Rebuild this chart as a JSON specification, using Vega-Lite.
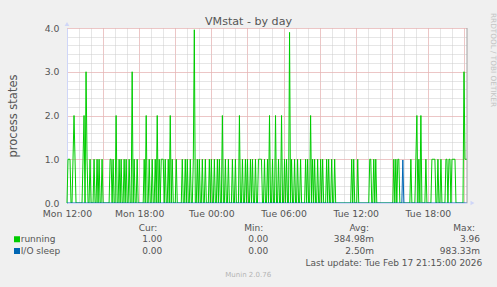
{
"$schema": "https://vega.github.io/schema/vega-lite/v6.json",
"background": "#f0f0f0",
"autosize": {"type": "pad"},
"padding": {"left": 7, "top": 13, "right": 6, "bottom": 10},
"bounds": "flush",
"spacing": 24.5,
"config": {
 "font": "DejaVu Sans",
 "view": {"stroke": null},
 "axis": {"labelFlush": false, "labelOverlap": false, "labelBound": false, "titleFontWeight": "normal", "labelColor": "#555555", "titleColor": "#555555", "gridOpacity": 1},
 "text": {"font": "DejaVu Sans", "fontSize": 9, "color": "#555555"}
},
"datasets": {"d": [
{"t":"2026-02-16T12:00Z","r":0,"s":0},{"t":"2026-02-16T12:05Z","r":1,"s":0},{"t":"2026-02-16T12:10Z","r":1,"s":0},{"t":"2026-02-16T12:15Z","r":1,"s":0},{"t":"2026-02-16T12:20Z","r":0,"s":0},{"t":"2026-02-16T12:25Z","r":0,"s":0},{"t":"2026-02-16T12:30Z","r":1,"s":0},{"t":"2026-02-16T12:35Z","r":2,"s":0},{"t":"2026-02-16T12:40Z","r":1,"s":0},{"t":"2026-02-16T12:45Z","r":0,"s":0},{"t":"2026-02-16T12:50Z","r":0,"s":0},{"t":"2026-02-16T12:55Z","r":0,"s":0},
{"t":"2026-02-16T13:00Z","r":0,"s":0},{"t":"2026-02-16T13:05Z","r":0,"s":0},{"t":"2026-02-16T13:10Z","r":0,"s":0},{"t":"2026-02-16T13:15Z","r":0,"s":0},{"t":"2026-02-16T13:20Z","r":1,"s":0},{"t":"2026-02-16T13:25Z","r":2,"s":0},{"t":"2026-02-16T13:30Z","r":0,"s":0},{"t":"2026-02-16T13:35Z","r":3,"s":0},{"t":"2026-02-16T13:40Z","r":1,"s":0},{"t":"2026-02-16T13:45Z","r":0,"s":0},{"t":"2026-02-16T13:50Z","r":0,"s":0},{"t":"2026-02-16T13:55Z","r":1,"s":0},
{"t":"2026-02-16T14:00Z","r":0,"s":0},{"t":"2026-02-16T14:05Z","r":0,"s":0},{"t":"2026-02-16T14:10Z","r":0,"s":0},{"t":"2026-02-16T14:15Z","r":1,"s":0},{"t":"2026-02-16T14:20Z","r":0,"s":0},{"t":"2026-02-16T14:25Z","r":0,"s":0},{"t":"2026-02-16T14:30Z","r":1,"s":0},{"t":"2026-02-16T14:35Z","r":0,"s":0},{"t":"2026-02-16T14:40Z","r":1,"s":0},{"t":"2026-02-16T14:45Z","r":0,"s":0},{"t":"2026-02-16T14:50Z","r":0,"s":0},{"t":"2026-02-16T14:55Z","r":1,"s":0},
{"t":"2026-02-16T15:00Z","r":0,"s":0},{"t":"2026-02-16T15:05Z","r":0,"s":0},{"t":"2026-02-16T15:10Z","r":0,"s":0},{"t":"2026-02-16T15:15Z","r":0,"s":0},{"t":"2026-02-16T15:20Z","r":0,"s":0},{"t":"2026-02-16T15:25Z","r":0,"s":0},{"t":"2026-02-16T15:30Z","r":0,"s":0},{"t":"2026-02-16T15:35Z","r":1,"s":0},{"t":"2026-02-16T15:40Z","r":1,"s":0},{"t":"2026-02-16T15:45Z","r":0,"s":0},{"t":"2026-02-16T15:50Z","r":1,"s":0},{"t":"2026-02-16T15:55Z","r":0,"s":0},
{"t":"2026-02-16T16:00Z","r":0,"s":0},{"t":"2026-02-16T16:05Z","r":2,"s":0},{"t":"2026-02-16T16:10Z","r":0,"s":0},{"t":"2026-02-16T16:15Z","r":0,"s":0},{"t":"2026-02-16T16:20Z","r":1,"s":0},{"t":"2026-02-16T16:25Z","r":0,"s":0},{"t":"2026-02-16T16:30Z","r":1,"s":0},{"t":"2026-02-16T16:35Z","r":0,"s":0},{"t":"2026-02-16T16:40Z","r":0,"s":0},{"t":"2026-02-16T16:45Z","r":1,"s":0},{"t":"2026-02-16T16:50Z","r":0,"s":0},{"t":"2026-02-16T16:55Z","r":1,"s":0},
{"t":"2026-02-16T17:00Z","r":0,"s":0},{"t":"2026-02-16T17:05Z","r":0,"s":0},{"t":"2026-02-16T17:10Z","r":1,"s":0},{"t":"2026-02-16T17:15Z","r":0,"s":0},{"t":"2026-02-16T17:20Z","r":0,"s":0},{"t":"2026-02-16T17:25Z","r":3,"s":0},{"t":"2026-02-16T17:30Z","r":0,"s":0},{"t":"2026-02-16T17:35Z","r":1,"s":0},{"t":"2026-02-16T17:40Z","r":0,"s":0},{"t":"2026-02-16T17:45Z","r":0,"s":0},{"t":"2026-02-16T17:50Z","r":1,"s":0},{"t":"2026-02-16T17:55Z","r":0,"s":0},
{"t":"2026-02-16T18:00Z","r":0,"s":0},{"t":"2026-02-16T18:05Z","r":0,"s":0},{"t":"2026-02-16T18:10Z","r":0,"s":0},{"t":"2026-02-16T18:15Z","r":0,"s":0},{"t":"2026-02-16T18:20Z","r":0,"s":0},{"t":"2026-02-16T18:25Z","r":1,"s":0},{"t":"2026-02-16T18:30Z","r":0,"s":0},{"t":"2026-02-16T18:35Z","r":2,"s":0},{"t":"2026-02-16T18:40Z","r":0,"s":0},{"t":"2026-02-16T18:45Z","r":0,"s":0},{"t":"2026-02-16T18:50Z","r":1,"s":0},{"t":"2026-02-16T18:55Z","r":0,"s":0},
{"t":"2026-02-16T19:00Z","r":0,"s":0},{"t":"2026-02-16T19:05Z","r":1,"s":0},{"t":"2026-02-16T19:10Z","r":0,"s":0},{"t":"2026-02-16T19:15Z","r":0,"s":0},{"t":"2026-02-16T19:20Z","r":1,"s":0},{"t":"2026-02-16T19:25Z","r":0,"s":0},{"t":"2026-02-16T19:30Z","r":2,"s":0},{"t":"2026-02-16T19:35Z","r":0,"s":0},{"t":"2026-02-16T19:40Z","r":1,"s":0},{"t":"2026-02-16T19:45Z","r":0,"s":0},{"t":"2026-02-16T19:50Z","r":1,"s":0},{"t":"2026-02-16T19:55Z","r":1,"s":0},
{"t":"2026-02-16T20:00Z","r":1,"s":0},{"t":"2026-02-16T20:05Z","r":0,"s":0},{"t":"2026-02-16T20:10Z","r":1,"s":0},{"t":"2026-02-16T20:15Z","r":0,"s":0},{"t":"2026-02-16T20:20Z","r":0,"s":0},{"t":"2026-02-16T20:25Z","r":1,"s":0},{"t":"2026-02-16T20:30Z","r":0,"s":0},{"t":"2026-02-16T20:35Z","r":2,"s":0},{"t":"2026-02-16T20:40Z","r":0,"s":0},{"t":"2026-02-16T20:45Z","r":1,"s":0},{"t":"2026-02-16T20:50Z","r":0,"s":0},{"t":"2026-02-16T20:55Z","r":0,"s":0},
{"t":"2026-02-16T21:00Z","r":0,"s":0},{"t":"2026-02-16T21:05Z","r":1,"s":0},{"t":"2026-02-16T21:10Z","r":0,"s":0},{"t":"2026-02-16T21:15Z","r":0,"s":0},{"t":"2026-02-16T21:20Z","r":0,"s":0},{"t":"2026-02-16T21:25Z","r":0,"s":0},{"t":"2026-02-16T21:30Z","r":0,"s":0},{"t":"2026-02-16T21:35Z","r":1,"s":0},{"t":"2026-02-16T21:40Z","r":0,"s":0},{"t":"2026-02-16T21:45Z","r":0,"s":0},{"t":"2026-02-16T21:50Z","r":1,"s":0},{"t":"2026-02-16T21:55Z","r":0,"s":0},
{"t":"2026-02-16T22:00Z","r":1,"s":0},{"t":"2026-02-16T22:05Z","r":0,"s":0},{"t":"2026-02-16T22:10Z","r":0,"s":0},{"t":"2026-02-16T22:15Z","r":1,"s":0},{"t":"2026-02-16T22:20Z","r":0,"s":0},{"t":"2026-02-16T22:25Z","r":0,"s":0},{"t":"2026-02-16T22:30Z","r":1,"s":0},{"t":"2026-02-16T22:35Z","r":3.96,"s":0},{"t":"2026-02-16T22:40Z","r":0,"s":0},{"t":"2026-02-16T22:45Z","r":0,"s":0},{"t":"2026-02-16T22:50Z","r":1,"s":0},{"t":"2026-02-16T22:55Z","r":0,"s":0},
{"t":"2026-02-16T23:00Z","r":1,"s":0},{"t":"2026-02-16T23:05Z","r":0,"s":0},{"t":"2026-02-16T23:10Z","r":0,"s":0},{"t":"2026-02-16T23:15Z","r":1,"s":0},{"t":"2026-02-16T23:20Z","r":0,"s":0},{"t":"2026-02-16T23:25Z","r":0,"s":0},{"t":"2026-02-16T23:30Z","r":1,"s":0},{"t":"2026-02-16T23:35Z","r":0,"s":0},{"t":"2026-02-16T23:40Z","r":0,"s":0},{"t":"2026-02-16T23:45Z","r":0,"s":0},{"t":"2026-02-16T23:50Z","r":1,"s":0},{"t":"2026-02-16T23:55Z","r":0,"s":0},
{"t":"2026-02-17T00:00Z","r":1,"s":0},{"t":"2026-02-17T00:05Z","r":0,"s":0},{"t":"2026-02-17T00:10Z","r":0,"s":0},{"t":"2026-02-17T00:15Z","r":1,"s":0},{"t":"2026-02-17T00:20Z","r":0,"s":0},{"t":"2026-02-17T00:25Z","r":0,"s":0},{"t":"2026-02-17T00:30Z","r":1,"s":0},{"t":"2026-02-17T00:35Z","r":0,"s":0},{"t":"2026-02-17T00:40Z","r":1,"s":0},{"t":"2026-02-17T00:45Z","r":0,"s":0},{"t":"2026-02-17T00:50Z","r":0,"s":0},{"t":"2026-02-17T00:55Z","r":2,"s":0},
{"t":"2026-02-17T01:00Z","r":0,"s":0},{"t":"2026-02-17T01:05Z","r":0,"s":0},{"t":"2026-02-17T01:10Z","r":1,"s":0},{"t":"2026-02-17T01:15Z","r":0,"s":0},{"t":"2026-02-17T01:20Z","r":0,"s":0},{"t":"2026-02-17T01:25Z","r":1,"s":0},{"t":"2026-02-17T01:30Z","r":0,"s":0},{"t":"2026-02-17T01:35Z","r":0,"s":0},{"t":"2026-02-17T01:40Z","r":0,"s":0},{"t":"2026-02-17T01:45Z","r":1,"s":0},{"t":"2026-02-17T01:50Z","r":0,"s":0},{"t":"2026-02-17T01:55Z","r":0,"s":0},
{"t":"2026-02-17T02:00Z","r":1,"s":0},{"t":"2026-02-17T02:05Z","r":0,"s":0},{"t":"2026-02-17T02:10Z","r":0,"s":0},{"t":"2026-02-17T02:15Z","r":0,"s":0},{"t":"2026-02-17T02:20Z","r":2,"s":0},{"t":"2026-02-17T02:25Z","r":0,"s":0},{"t":"2026-02-17T02:30Z","r":0,"s":0},{"t":"2026-02-17T02:35Z","r":1,"s":0},{"t":"2026-02-17T02:40Z","r":0,"s":0},{"t":"2026-02-17T02:45Z","r":0,"s":0},{"t":"2026-02-17T02:50Z","r":1,"s":0},{"t":"2026-02-17T02:55Z","r":0,"s":0},
{"t":"2026-02-17T03:00Z","r":1,"s":0},{"t":"2026-02-17T03:05Z","r":0,"s":0},{"t":"2026-02-17T03:10Z","r":0,"s":0},{"t":"2026-02-17T03:15Z","r":1,"s":0},{"t":"2026-02-17T03:20Z","r":0,"s":0},{"t":"2026-02-17T03:25Z","r":1,"s":0},{"t":"2026-02-17T03:30Z","r":0,"s":0},{"t":"2026-02-17T03:35Z","r":0,"s":0},{"t":"2026-02-17T03:40Z","r":1,"s":0},{"t":"2026-02-17T03:45Z","r":0,"s":0},{"t":"2026-02-17T03:50Z","r":0,"s":0},{"t":"2026-02-17T03:55Z","r":1,"s":0},
{"t":"2026-02-17T04:00Z","r":1,"s":0},{"t":"2026-02-17T04:05Z","r":1,"s":0},{"t":"2026-02-17T04:10Z","r":1,"s":0},{"t":"2026-02-17T04:15Z","r":0,"s":0},{"t":"2026-02-17T04:20Z","r":0,"s":0},{"t":"2026-02-17T04:25Z","r":1,"s":0},{"t":"2026-02-17T04:30Z","r":0,"s":0},{"t":"2026-02-17T04:35Z","r":0,"s":0},{"t":"2026-02-17T04:40Z","r":1,"s":0},{"t":"2026-02-17T04:45Z","r":0,"s":0},{"t":"2026-02-17T04:50Z","r":2,"s":0},{"t":"2026-02-17T04:55Z","r":0,"s":0},
{"t":"2026-02-17T05:00Z","r":0,"s":0},{"t":"2026-02-17T05:05Z","r":1,"s":0},{"t":"2026-02-17T05:10Z","r":0,"s":0},{"t":"2026-02-17T05:15Z","r":0,"s":0},{"t":"2026-02-17T05:20Z","r":2,"s":0},{"t":"2026-02-17T05:25Z","r":0,"s":0},{"t":"2026-02-17T05:30Z","r":0,"s":0},{"t":"2026-02-17T05:35Z","r":1,"s":0},{"t":"2026-02-17T05:40Z","r":0,"s":0},{"t":"2026-02-17T05:45Z","r":0,"s":0},{"t":"2026-02-17T05:50Z","r":2,"s":0},{"t":"2026-02-17T05:55Z","r":0,"s":0},
{"t":"2026-02-17T06:00Z","r":0,"s":0},{"t":"2026-02-17T06:05Z","r":1,"s":0},{"t":"2026-02-17T06:10Z","r":0,"s":0},{"t":"2026-02-17T06:15Z","r":1,"s":0},{"t":"2026-02-17T06:20Z","r":0,"s":0},{"t":"2026-02-17T06:25Z","r":0,"s":0},{"t":"2026-02-17T06:30Z","r":3.9,"s":0},{"t":"2026-02-17T06:35Z","r":0,"s":0},{"t":"2026-02-17T06:40Z","r":1,"s":0},{"t":"2026-02-17T06:45Z","r":0,"s":0},{"t":"2026-02-17T06:50Z","r":0,"s":0},{"t":"2026-02-17T06:55Z","r":1,"s":0},
{"t":"2026-02-17T07:00Z","r":0,"s":0},{"t":"2026-02-17T07:05Z","r":0,"s":0},{"t":"2026-02-17T07:10Z","r":1,"s":0},{"t":"2026-02-17T07:15Z","r":0,"s":0},{"t":"2026-02-17T07:20Z","r":0,"s":0},{"t":"2026-02-17T07:25Z","r":1,"s":0},{"t":"2026-02-17T07:30Z","r":0,"s":0},{"t":"2026-02-17T07:35Z","r":0,"s":0},{"t":"2026-02-17T07:40Z","r":0,"s":0},{"t":"2026-02-17T07:45Z","r":0,"s":0},{"t":"2026-02-17T07:50Z","r":1,"s":0},{"t":"2026-02-17T07:55Z","r":0,"s":0},
{"t":"2026-02-17T08:00Z","r":1,"s":0},{"t":"2026-02-17T08:05Z","r":0,"s":0},{"t":"2026-02-17T08:10Z","r":0,"s":0},{"t":"2026-02-17T08:15Z","r":2,"s":0},{"t":"2026-02-17T08:20Z","r":0,"s":0},{"t":"2026-02-17T08:25Z","r":1,"s":0},{"t":"2026-02-17T08:30Z","r":0,"s":0},{"t":"2026-02-17T08:35Z","r":1,"s":0},{"t":"2026-02-17T08:40Z","r":0,"s":0},{"t":"2026-02-17T08:45Z","r":0,"s":0},{"t":"2026-02-17T08:50Z","r":1,"s":0},{"t":"2026-02-17T08:55Z","r":0,"s":0},
{"t":"2026-02-17T09:00Z","r":0,"s":0},{"t":"2026-02-17T09:05Z","r":1,"s":0},{"t":"2026-02-17T09:10Z","r":0,"s":0},{"t":"2026-02-17T09:15Z","r":1,"s":0},{"t":"2026-02-17T09:20Z","r":0,"s":0},{"t":"2026-02-17T09:25Z","r":0,"s":0},{"t":"2026-02-17T09:30Z","r":0,"s":0},{"t":"2026-02-17T09:35Z","r":1,"s":0},{"t":"2026-02-17T09:40Z","r":0,"s":0},{"t":"2026-02-17T09:45Z","r":1,"s":0},{"t":"2026-02-17T09:50Z","r":0,"s":0},{"t":"2026-02-17T09:55Z","r":0,"s":0},
{"t":"2026-02-17T10:00Z","r":1,"s":0},{"t":"2026-02-17T10:05Z","r":0,"s":0},{"t":"2026-02-17T10:10Z","r":0,"s":0},{"t":"2026-02-17T10:15Z","r":1,"s":0},{"t":"2026-02-17T10:20Z","r":0,"s":0},{"t":"2026-02-17T10:25Z","r":0,"s":0},{"t":"2026-02-17T10:30Z","r":0,"s":0},{"t":"2026-02-17T10:35Z","r":0,"s":0},{"t":"2026-02-17T10:40Z","r":0,"s":0},{"t":"2026-02-17T10:45Z","r":0,"s":0},{"t":"2026-02-17T10:50Z","r":0,"s":0},{"t":"2026-02-17T10:55Z","r":0,"s":0},
{"t":"2026-02-17T11:00Z","r":0,"s":0},{"t":"2026-02-17T11:05Z","r":0,"s":0},{"t":"2026-02-17T11:10Z","r":0,"s":0},{"t":"2026-02-17T11:15Z","r":0,"s":0},{"t":"2026-02-17T11:20Z","r":0,"s":0},{"t":"2026-02-17T11:25Z","r":0,"s":0},{"t":"2026-02-17T11:30Z","r":0,"s":0},{"t":"2026-02-17T11:35Z","r":0,"s":0},{"t":"2026-02-17T11:40Z","r":1,"s":0},{"t":"2026-02-17T11:45Z","r":0,"s":0},{"t":"2026-02-17T11:50Z","r":1,"s":0},{"t":"2026-02-17T11:55Z","r":0,"s":0},
{"t":"2026-02-17T12:00Z","r":0,"s":0},{"t":"2026-02-17T12:05Z","r":0,"s":0},{"t":"2026-02-17T12:10Z","r":1,"s":0},{"t":"2026-02-17T12:15Z","r":0,"s":0},{"t":"2026-02-17T12:20Z","r":0,"s":0},{"t":"2026-02-17T12:25Z","r":0,"s":0},{"t":"2026-02-17T12:30Z","r":0,"s":0},{"t":"2026-02-17T12:35Z","r":0,"s":0},{"t":"2026-02-17T12:40Z","r":0,"s":0},{"t":"2026-02-17T12:45Z","r":0,"s":0},{"t":"2026-02-17T12:50Z","r":0,"s":0},{"t":"2026-02-17T12:55Z","r":0,"s":0},
{"t":"2026-02-17T13:00Z","r":0,"s":0},{"t":"2026-02-17T13:05Z","r":0,"s":0},{"t":"2026-02-17T13:10Z","r":1,"s":0},{"t":"2026-02-17T13:15Z","r":1,"s":0},{"t":"2026-02-17T13:20Z","r":0,"s":0},{"t":"2026-02-17T13:25Z","r":0,"s":0},{"t":"2026-02-17T13:30Z","r":1,"s":0},{"t":"2026-02-17T13:35Z","r":0,"s":0},{"t":"2026-02-17T13:40Z","r":1,"s":0},{"t":"2026-02-17T13:45Z","r":0,"s":0},{"t":"2026-02-17T13:50Z","r":0,"s":0},{"t":"2026-02-17T13:55Z","r":0,"s":0},
{"t":"2026-02-17T14:00Z","r":0,"s":0},{"t":"2026-02-17T14:05Z","r":0,"s":0},{"t":"2026-02-17T14:10Z","r":0,"s":0},{"t":"2026-02-17T14:15Z","r":0,"s":0},{"t":"2026-02-17T14:20Z","r":0,"s":0},{"t":"2026-02-17T14:25Z","r":0,"s":0},{"t":"2026-02-17T14:30Z","r":0,"s":0},{"t":"2026-02-17T14:35Z","r":0,"s":0},{"t":"2026-02-17T14:40Z","r":0,"s":0},{"t":"2026-02-17T14:45Z","r":0,"s":0},{"t":"2026-02-17T14:50Z","r":0,"s":0},{"t":"2026-02-17T14:55Z","r":0,"s":0},
{"t":"2026-02-17T15:00Z","r":0,"s":0},{"t":"2026-02-17T15:05Z","r":0,"s":0},{"t":"2026-02-17T15:10Z","r":1,"s":0},{"t":"2026-02-17T15:15Z","r":0,"s":0},{"t":"2026-02-17T15:20Z","r":1,"s":0},{"t":"2026-02-17T15:25Z","r":0,"s":0},{"t":"2026-02-17T15:30Z","r":1,"s":0},{"t":"2026-02-17T15:35Z","r":1,"s":0},{"t":"2026-02-17T15:40Z","r":0,"s":0},{"t":"2026-02-17T15:45Z","r":0,"s":0},{"t":"2026-02-17T15:50Z","r":0,"s":0},{"t":"2026-02-17T15:55Z","r":0,"s":0.98333},
{"t":"2026-02-17T16:00Z","r":0,"s":0},{"t":"2026-02-17T16:05Z","r":0,"s":0},{"t":"2026-02-17T16:10Z","r":0,"s":0},{"t":"2026-02-17T16:15Z","r":0,"s":0},{"t":"2026-02-17T16:20Z","r":0,"s":0},{"t":"2026-02-17T16:25Z","r":0,"s":0},{"t":"2026-02-17T16:30Z","r":0,"s":0},{"t":"2026-02-17T16:35Z","r":1,"s":0},{"t":"2026-02-17T16:40Z","r":0,"s":0},{"t":"2026-02-17T16:45Z","r":0,"s":0},{"t":"2026-02-17T16:50Z","r":0,"s":0},{"t":"2026-02-17T16:55Z","r":0,"s":0},
{"t":"2026-02-17T17:00Z","r":1,"s":0},{"t":"2026-02-17T17:05Z","r":2,"s":0},{"t":"2026-02-17T17:10Z","r":0,"s":0},{"t":"2026-02-17T17:15Z","r":1,"s":0},{"t":"2026-02-17T17:20Z","r":0,"s":0},{"t":"2026-02-17T17:25Z","r":2,"s":0},{"t":"2026-02-17T17:30Z","r":0,"s":0},{"t":"2026-02-17T17:35Z","r":0,"s":0},{"t":"2026-02-17T17:40Z","r":0,"s":0},{"t":"2026-02-17T17:45Z","r":0,"s":0},{"t":"2026-02-17T17:50Z","r":1,"s":0},{"t":"2026-02-17T17:55Z","r":0,"s":0},
{"t":"2026-02-17T18:00Z","r":0,"s":0},{"t":"2026-02-17T18:05Z","r":0,"s":0},{"t":"2026-02-17T18:10Z","r":0,"s":0},{"t":"2026-02-17T18:15Z","r":0,"s":0},{"t":"2026-02-17T18:20Z","r":1,"s":0},{"t":"2026-02-17T18:25Z","r":1,"s":0},{"t":"2026-02-17T18:30Z","r":1,"s":0},{"t":"2026-02-17T18:35Z","r":1,"s":0},{"t":"2026-02-17T18:40Z","r":0,"s":0},{"t":"2026-02-17T18:45Z","r":0,"s":0},{"t":"2026-02-17T18:50Z","r":1,"s":0},{"t":"2026-02-17T18:55Z","r":0,"s":0},
{"t":"2026-02-17T19:00Z","r":0,"s":0},{"t":"2026-02-17T19:05Z","r":1,"s":0},{"t":"2026-02-17T19:10Z","r":0,"s":0},{"t":"2026-02-17T19:15Z","r":0,"s":0},{"t":"2026-02-17T19:20Z","r":0,"s":0},{"t":"2026-02-17T19:25Z","r":0,"s":0},{"t":"2026-02-17T19:30Z","r":1,"s":0},{"t":"2026-02-17T19:35Z","r":1,"s":0},{"t":"2026-02-17T19:40Z","r":0,"s":0},{"t":"2026-02-17T19:45Z","r":1,"s":0},{"t":"2026-02-17T19:50Z","r":1,"s":0},{"t":"2026-02-17T19:55Z","r":0,"s":0},
{"t":"2026-02-17T20:00Z","r":1,"s":0},{"t":"2026-02-17T20:05Z","r":1,"s":0},{"t":"2026-02-17T20:10Z","r":1,"s":0},{"t":"2026-02-17T20:15Z","r":1,"s":0},{"t":"2026-02-17T20:20Z","r":0,"s":0},{"t":"2026-02-17T20:25Z","r":0,"s":0},{"t":"2026-02-17T20:30Z","r":0,"s":0},{"t":"2026-02-17T20:35Z","r":0,"s":0},{"t":"2026-02-17T20:40Z","r":0,"s":0},{"t":"2026-02-17T20:45Z","r":0,"s":0},{"t":"2026-02-17T20:50Z","r":0,"s":0},{"t":"2026-02-17T20:55Z","r":0,"s":0},
{"t":"2026-02-17T21:00Z","r":3,"s":0},{"t":"2026-02-17T21:05Z","r":1,"s":0},{"t":"2026-02-17T21:10Z","r":1,"s":0},{"t":"2026-02-17T21:15Z","r":1,"s":0}
]},
"vconcat": [
 {
  "width": 400, "height": 175,
  "view": {"fill": "#ffffff", "stroke": null},
  "title": {"text": "VMstat - by day", "fontSize": 11.1, "fontWeight": "normal", "color": "#555555", "anchor": "middle", "frame": "group", "dx": -18.5, "dy": 20, "offset": -3, "baseline": "alphabetic"},
  "data": {"name": "d"},
  "resolve": {"axis": {"x": "independent", "y": "independent"}},
  "layer": [
   {"mark": {"type": "line", "color": "#00cc00", "strokeWidth": 1},
    "encoding": {
     "x": {"field": "t", "type": "temporal",
      "scale": {"type": "utc", "domain": [1771243200000, 1771362900000], "nice": false},
      "axis": {"orient": "bottom", "values": [1771243200000,1771246800000,1771250400000,1771254000000,1771257600000,1771261200000,1771264800000,1771268400000,1771272000000,1771275600000,1771279200000,1771282800000,1771286400000,1771290000000,1771293600000,1771297200000,1771300800000,1771304400000,1771308000000,1771311600000,1771315200000,1771318800000,1771322400000,1771326000000,1771329600000,1771333200000,1771336800000,1771340400000,1771344000000,1771347600000,1771351200000,1771354800000,1771358400000,1771362000000], "grid": true, "gridColor": "#cccccc", "gridDash": [1, 1], "labels": false, "ticks": false, "domain": false, "title": null}},
     "y": {"field": "r", "type": "quantitative", "scale": {"domain": [0, 4], "nice": false},
      "axis": {"orient": "left", "tickCount": 20, "grid": true, "gridColor": "#cccccc", "gridDash": [1, 1], "labels": false, "ticks": false, "domain": false, "title": null}}
    }},
   {"mark": {"type": "line", "color": "#0066b3", "strokeWidth": 1},
    "encoding": {
     "x": {"field": "t", "type": "temporal",
      "axis": {"orient": "bottom", "values": [1771243200000,1771254000000,1771264800000,1771275600000,1771286400000,1771297200000,1771308000000,1771318800000,1771329600000,1771340400000,1771351200000,1771362000000], "grid": true, "gridColor": "#f3a6a6", "gridDash": [1, 1], "labels": false, "ticks": false, "domain": false, "title": null}},
     "y": {"field": "s", "type": "quantitative",
      "axis": {"orient": "left", "tickCount": 4, "grid": true, "gridColor": "#f3a6a6", "gridDash": [1, 1], "format": ".1f", "ticks": false, "domain": true, "domainColor": "#cfd6f8", "labelPadding": 8, "labelFontSize": 9.3, "title": "process states", "titleFontSize": 11.5, "titlePadding": 26}}
    }},
   {"data": {"values": [{}]},
    "mark": {"type": "rule", "color": "#a0a0a0", "strokeWidth": 1},
    "encoding": {
     "x": {"datum": 1771362900000, "type": "temporal",
      "axis": {"orient": "bottom", "values": [1771243200000,1771264800000,1771286400000,1771308000000,1771329600000,1771351200000], "format": "%a %H:%M", "grid": false, "ticks": false, "domain": true, "domainColor": "#cfd6f8", "labelPadding": 6, "labelFontSize": 9.3, "zindex": 1, "title": null}},
     "y": {"datum": 0, "type": "quantitative", "axis": null},
     "y2": {"datum": 4}
    }},
   {"data": {"values": [{}]},
    "mark": {"type": "point", "shape": "triangle-up", "filled": true, "color": "#cfd6f8", "opacity": 1, "size": 22, "yOffset": -4},
    "encoding": {
     "x": {"datum": 1771243200000, "type": "temporal", "axis": null},
     "y": {"datum": 4, "type": "quantitative", "axis": null}
    }},
   {"data": {"values": [{}]},
    "mark": {"type": "point", "shape": "triangle-right", "filled": true, "color": "#cfd6f8", "opacity": 1, "size": 22, "xOffset": 5.5},
    "encoding": {
     "x": {"datum": 1771362900000, "type": "temporal", "axis": null},
     "y": {"datum": 0, "type": "quantitative", "axis": null}
    }},
   {"data": {"values": [{}]},
    "mark": {"type": "text", "text": "RRDTOOL / TOBI OETIKER", "angle": 90, "align": "left", "baseline": "middle", "fontSize": 7.3, "color": "#c4c4c4", "dx": -15, "dy": -26},
    "encoding": {
     "x": {"datum": 1771362900000, "type": "temporal", "axis": null},
     "y": {"datum": 4, "type": "quantitative", "axis": null}
    }}
  ]
 },
 {
  "width": 413, "height": 47,
  "view": {"fill": null, "stroke": null},
  "layer": [
   {"data": {"values": [{"row": "hdr", "col": "Cur", "txt": "Cur:"}, {"row": "hdr", "col": "Min", "txt": "Min:"}, {"row": "hdr", "col": "Avg", "txt": "Avg:"}, {"row": "hdr", "col": "Max", "txt": "Max:"}]},
    "mark": {"type": "text", "align": "right", "baseline": "middle", "dx": -5},
    "encoding": {
     "x": {"field": "col", "type": "nominal", "scale": {"type": "point", "domain": ["Cur", "Min", "Avg", "Max"], "padding": 0.45, "align": 1}, "axis": null},
     "y": {"field": "row", "type": "nominal", "scale": {"type": "point", "domain": ["hdr", "running", "I/O sleep", "upd", "munin"], "padding": 0}, "axis": null},
     "text": {"field": "txt"}
    }},
   {"data": {"values": [
     {"row": "running", "col": "Cur", "txt": "1.00"}, {"row": "running", "col": "Min", "txt": "0.00"}, {"row": "running", "col": "Avg", "txt": "384.98m"}, {"row": "running", "col": "Max", "txt": "3.96"},
     {"row": "I/O sleep", "col": "Cur", "txt": "0.00"}, {"row": "I/O sleep", "col": "Min", "txt": "0.00"}, {"row": "I/O sleep", "col": "Avg", "txt": "2.50m"}, {"row": "I/O sleep", "col": "Max", "txt": "983.33m"}]},
    "mark": {"type": "text", "align": "right", "baseline": "middle"},
    "encoding": {
     "x": {"field": "col", "type": "nominal", "axis": null},
     "y": {"field": "row", "type": "nominal", "axis": null},
     "text": {"field": "txt"}
    }},
   {"data": {"values": [{"row": "running"}, {"row": "I/O sleep"}]},
    "mark": {"type": "text", "align": "left", "baseline": "middle", "dx": -141.6},
    "encoding": {
     "x": {"datum": "Cur", "type": "nominal", "axis": null},
     "y": {"field": "row", "type": "nominal", "axis": null},
     "text": {"field": "row"}
    }},
   {"data": {"values": [{"row": "running"}, {"row": "I/O sleep"}]},
    "mark": {"type": "square", "size": 36, "opacity": 1, "xOffset": -145.3},
    "encoding": {
     "x": {"datum": "Cur", "type": "nominal", "axis": null},
     "y": {"field": "row", "type": "nominal", "axis": null},
     "color": {"field": "row", "type": "nominal", "scale": {"domain": ["running", "I/O sleep"], "range": ["#00cc00", "#0066b3"]}, "legend": null}
    }},
   {"data": {"values": [{"row": "upd", "txt": "Last update: Tue Feb 17 21:15:00 2026"}]},
    "mark": {"type": "text", "align": "right", "baseline": "middle", "dx": 2.3},
    "encoding": {
     "x": {"datum": "Max", "type": "nominal", "axis": null},
     "y": {"field": "row", "type": "nominal", "axis": null},
     "text": {"field": "txt"}
    }},
   {"data": {"values": [{"row": "munin", "txt": "Munin 2.0.76"}]},
    "mark": {"type": "text", "align": "center", "baseline": "middle", "dx": -20, "fontSize": 7, "color": "#b4b4b4"},
    "encoding": {
     "x": {"datum": "Min", "type": "nominal", "axis": null},
     "y": {"field": "row", "type": "nominal", "axis": null},
     "text": {"field": "txt"}
    }}
  ]
 }
]
}
